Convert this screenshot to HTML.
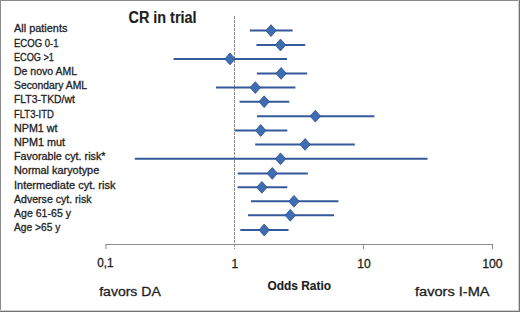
<!DOCTYPE html>
<html><head><meta charset="utf-8"><style>
html,body{margin:0;padding:0;background:#fff;}
body{width:520px;height:312px;overflow:hidden;}
svg{display:block;}
text{font-family:"Liberation Sans",sans-serif;fill:#1e1e1e;stroke:#1e1e1e;stroke-width:0.3px;}
.b{stroke-width:0.15px;}
</style></head><body>
<svg width="520" height="312" viewBox="0 0 520 312">
<rect x="0" y="0" width="520" height="312" fill="#fff"/>
<!-- border -->
<rect x="0" y="0" width="520" height="1" fill="#8a8a8a"/>
<rect x="0" y="0" width="1" height="312" fill="#8a8a8a"/>
<rect x="518" y="0" width="1" height="312" fill="#d0d0d0"/>
<rect x="0" y="310" width="520" height="1" fill="#d0d0d0"/>
<rect x="519" y="0" width="1" height="312" fill="#747474"/>
<rect x="0" y="311" width="520" height="1" fill="#747474"/>
<!-- title -->
<text x="128.5" y="22.5" class="b" font-size="16" font-weight="bold" textLength="68" lengthAdjust="spacingAndGlyphs">CR in trial</text>
<!-- ref line -->
<line x1="234.5" y1="16" x2="234.5" y2="249" stroke="#8c8c8c" stroke-width="1" stroke-dasharray="3 1"/>
<!-- axis -->
<line x1="105.5" y1="244.5" x2="493" y2="244.5" stroke="#8c8c8c" stroke-width="1"/>
<g stroke="#8c8c8c" stroke-width="1">
<line x1="106" y1="244.5" x2="106" y2="249"/>
<line x1="363.5" y1="244.5" x2="363.5" y2="249"/>
<line x1="492.5" y1="244.5" x2="492.5" y2="249"/>
</g>
<g font-size="12">
<text x="97.2" y="267" textLength="16.3" lengthAdjust="spacingAndGlyphs">0,1</text>
<text x="231.5" y="267.5">1</text>
<text x="357.3" y="267.5" textLength="13.5" lengthAdjust="spacingAndGlyphs">10</text>
<text x="482.2" y="267.5" textLength="20.5" lengthAdjust="spacingAndGlyphs">100</text>
</g>
<g font-size="12.5">
<text x="99.2" y="295.6" textLength="61.6" lengthAdjust="spacingAndGlyphs">favors DA</text>
<text x="415" y="296.2" textLength="74.6" lengthAdjust="spacingAndGlyphs">favors I-MA</text>
</g>
<text x="267.5" y="289.8" class="b" font-size="13" font-weight="bold" textLength="63.5" lengthAdjust="spacingAndGlyphs">Odds Ratio</text>
<!-- labels -->
<g font-size="10.5">
<text x="14.0" y="32.30" textLength="53.4" lengthAdjust="spacingAndGlyphs">All patients</text>
<text x="14.0" y="46.50" textLength="44.6" lengthAdjust="spacingAndGlyphs">ECOG 0-1</text>
<text x="14.0" y="60.70" textLength="39.9" lengthAdjust="spacingAndGlyphs">ECOG &gt;1</text>
<text x="14.0" y="74.90" textLength="63.0" lengthAdjust="spacingAndGlyphs">De novo AML</text>
<text x="14.0" y="89.10" textLength="73.1" lengthAdjust="spacingAndGlyphs">Secondary AML</text>
<text x="14.0" y="103.30" textLength="60.8" lengthAdjust="spacingAndGlyphs">FLT3-TKD/wt</text>
<text x="14.0" y="117.50" textLength="39.9" lengthAdjust="spacingAndGlyphs">FLT3-ITD</text>
<text x="14.0" y="131.70" textLength="43.5" lengthAdjust="spacingAndGlyphs">NPM1 wt</text>
<text x="14.0" y="145.90" textLength="51.1" lengthAdjust="spacingAndGlyphs">NPM1 mut</text>
<text x="14.0" y="160.10" textLength="91.5" lengthAdjust="spacingAndGlyphs">Favorable cyt. risk*</text>
<text x="14.0" y="174.30" textLength="85.2" lengthAdjust="spacingAndGlyphs">Normal karyotype</text>
<text x="14.0" y="188.50" textLength="101.4" lengthAdjust="spacingAndGlyphs">Intermediate cyt. risk</text>
<text x="14.0" y="202.70" textLength="77.5" lengthAdjust="spacingAndGlyphs">Adverse cyt. risk</text>
<text x="14.0" y="216.90" textLength="57.0" lengthAdjust="spacingAndGlyphs">Age 61-65 y</text>
<text x="14.0" y="231.10" textLength="46.3" lengthAdjust="spacingAndGlyphs">Age &gt;65 y</text>
</g>
<!-- CI lines -->
<g stroke="#35599a" stroke-width="2">
<line x1="249.8" y1="30.60" x2="292.6" y2="30.60"/>
<line x1="256.4" y1="45.00" x2="305.2" y2="45.00"/>
<line x1="173.5" y1="58.90" x2="287.0" y2="58.90"/>
<line x1="256.8" y1="73.40" x2="307.2" y2="73.40"/>
<line x1="216.0" y1="87.60" x2="295.4" y2="87.60"/>
<line x1="239.6" y1="101.70" x2="289.3" y2="101.70"/>
<line x1="257.0" y1="116.20" x2="374.4" y2="116.20"/>
<line x1="235.0" y1="130.50" x2="287.3" y2="130.50"/>
<line x1="255.2" y1="144.40" x2="354.8" y2="144.40"/>
<line x1="134.8" y1="158.80" x2="427.5" y2="158.80"/>
<line x1="237.7" y1="173.40" x2="307.8" y2="173.40"/>
<line x1="237.6" y1="187.30" x2="287.3" y2="187.30"/>
<line x1="251.0" y1="201.30" x2="338.4" y2="201.30"/>
<line x1="248.0" y1="215.30" x2="334.1" y2="215.30"/>
<line x1="240.3" y1="230.00" x2="288.5" y2="230.00"/>
</g>
<!-- diamonds -->
<g fill="#3f6db3" stroke="#2b4c85" stroke-width="0.8">
<path d="M271.0 24.70L276.2 30.60L271.0 36.50L265.8 30.60Z"/>
<path d="M280.5 39.10L285.7 45.00L280.5 50.90L275.3 45.00Z"/>
<path d="M230.0 53.00L235.2 58.90L230.0 64.80L224.8 58.90Z"/>
<path d="M281.1 67.50L286.3 73.40L281.1 79.30L275.9 73.40Z"/>
<path d="M255.3 81.70L260.5 87.60L255.3 93.50L250.1 87.60Z"/>
<path d="M264.2 95.80L269.4 101.70L264.2 107.60L259.0 101.70Z"/>
<path d="M315.3 110.30L320.5 116.20L315.3 122.10L310.1 116.20Z"/>
<path d="M260.7 124.60L265.9 130.50L260.7 136.40L255.5 130.50Z"/>
<path d="M305.1 138.50L310.3 144.40L305.1 150.30L299.9 144.40Z"/>
<path d="M280.5 152.90L285.7 158.80L280.5 164.70L275.3 158.80Z"/>
<path d="M272.3 167.50L277.5 173.40L272.3 179.30L267.1 173.40Z"/>
<path d="M261.9 181.40L267.1 187.30L261.9 193.20L256.7 187.30Z"/>
<path d="M294.0 195.40L299.2 201.30L294.0 207.20L288.8 201.30Z"/>
<path d="M290.3 209.40L295.5 215.30L290.3 221.20L285.1 215.30Z"/>
<path d="M264.2 224.10L269.4 230.00L264.2 235.90L259.0 230.00Z"/>
</g>
</svg>
</body></html>
